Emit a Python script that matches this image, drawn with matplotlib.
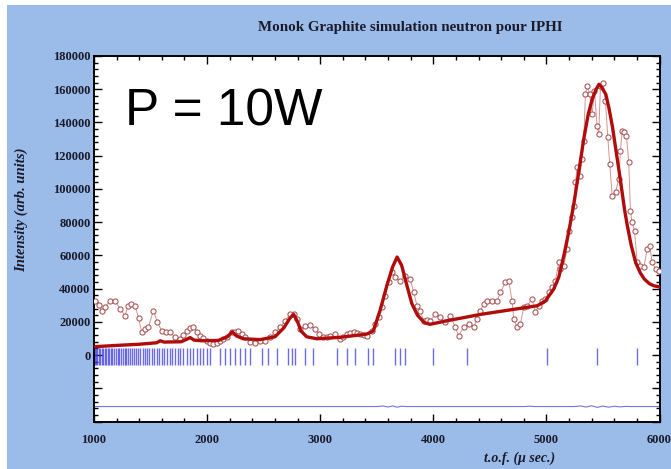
import matplotlib
matplotlib.use("Agg")
import matplotlib.pyplot as plt
from matplotlib.patches import Rectangle
from matplotlib.ticker import MultipleLocator, FuncFormatter

# ---------------- data ----------------
obs_tof = [1009, 1040, 1068, 1100, 1142, 1186, 1230, 1274, 1301, 1330, 1363, 1395, 1422, 1450,
           1481, 1525, 1560, 1599, 1635, 1673, 1717, 1761, 1790, 1823, 1850, 1879, 1910, 1938,
           1968, 1997, 2026, 2056, 2085, 2115, 2145, 2174, 2219, 2250, 2277, 2305, 2336, 2381,
           2425, 2469, 2513, 2558, 2602, 2646, 2690, 2735, 2764, 2794, 2823, 2867, 2912, 2956,
           2985, 3029, 3060, 3088, 3133, 3177, 3206, 3236, 3265, 3295, 3325, 3354, 3384, 3413,
           3457, 3487, 3516, 3546, 3575, 3604, 3634, 3664, 3708, 3752, 3796, 3826, 3856, 3885,
           3915, 3945, 3973, 4018, 4062, 4106, 4150, 4195, 4224, 4268, 4312, 4357, 4386, 4416,
           4445, 4475, 4519, 4564, 4593, 4637, 4666, 4696, 4711, 4740, 4770, 4799, 4829, 4873,
           4903, 4932, 4962, 4991, 5020, 5050, 5080, 5109, 5124, 5153, 5183, 5197, 5227, 5242,
           5257, 5271, 5295, 5316, 5330, 5345, 5360, 5383, 5404, 5425, 5448, 5463, 5478, 5502,
           5522, 5543, 5560, 5582, 5611, 5640, 5655, 5670, 5690, 5708, 5728, 5743, 5758, 5779,
           5803, 5832, 5862, 5891, 5914, 5935, 5965, 5994]
obs_int = [32700, 30000, 26700, 29000, 32700, 32700, 28000, 23700, 29700, 30500, 29700, 22000, 13600, 15500,
           16700, 26700, 20000, 14600, 14000, 13600, 10700, 9600, 12000, 14600, 16000, 16700, 14000, 11600,
           10000, 8600, 7500, 6600, 7500, 8600, 9800, 10700, 13600, 14000, 14600, 12500, 10700, 7600,
           7200, 8600, 8600, 10700, 13600, 16700, 20600, 24700, 24700, 21700, 15700, 17600, 18000, 15700,
           12600, 10700, 11000, 11600, 12600, 9600, 11000, 12600, 13000, 13600, 13000, 12600, 12000, 11600,
           14600, 18700, 22700, 28700, 35700, 44000, 49800, 46800, 44700, 47700, 45800, 37700, 29700, 26700,
           20600, 21000, 20600, 24700, 22700, 19700, 23700, 16700, 11600, 16700, 18700, 16700, 21700, 26700,
           30700, 32700, 32700, 32700, 37700, 43800, 44700, 32700, 21700, 16700, 18700, 28700, 29700, 33700,
           25700, 29700, 32700, 33700, 37700, 40800, 44700, 55800, 51800, 53800, 63800, 74800, 82900, 89900,
           104000, 113000, 108000, 118000, 129000, 157000, 162000, 157000, 145000, 159000, 138000, 133000, 162000, 164000,
           153000, 131000, 115000, 95900, 98000, 106000, 123000, 135000, 134000, 132000, 116000, 86900, 79900, 74800,
           55800, 53800, 52800, 63800, 65800, 55800, 51800, 50800]

calc_tof = [1000, 1200, 1400, 1555, 1585, 1620, 1770, 1820, 1850, 1885, 1950, 2100, 2180, 2222,
            2260, 2320, 2470, 2600, 2680, 2730, 2765, 2800, 2830, 2880, 2970, 3180, 3410, 3470,
            3530, 3590, 3640, 3680, 3720, 3770, 3810, 3860, 3920, 3970, 4120, 4420, 4710, 4920,
            4990, 5065, 5110, 5155, 5200, 5245, 5290, 5330, 5370, 5405, 5440, 5465, 5490, 5525,
            5555, 5585, 5620, 5655, 5690, 5715, 5750, 5790, 5830, 5865, 5910, 5950, 6000]
calc_int = [5000, 5800, 6500, 7400, 8600, 7800, 8000, 9500, 10500, 9000, 8600, 8800, 11000, 14000,
            11500, 9800, 9300, 11000, 16500, 22000, 24500, 20000, 14500, 11000, 9800, 10700, 12600, 14500,
            27000, 42000, 53000, 59000, 54000, 41000, 31000, 24000, 19500, 18500, 20600, 24500, 27500, 29700,
            32500, 39700, 47000, 60000, 75000, 92000, 112000, 130000, 145000, 154000, 160000, 163000, 161000, 157000,
            148000, 137000, 121000, 105000, 88000, 78000, 66000, 55500, 49500, 45800, 43000, 41700, 41000]

bragg_tof = [1005, 1020, 1030, 1042, 1055, 1068, 1080, 1093, 1107, 1120, 1135, 1150, 1163, 1178,
             1192, 1208, 1222, 1238, 1253, 1270, 1287, 1303, 1320, 1338, 1356, 1374, 1392, 1411,
             1430, 1450, 1470, 1490, 1511, 1532, 1554, 1576, 1598, 1621, 1645, 1668, 1692, 1716,
             1740, 1762, 1788, 1823, 1850, 1876, 1912, 1938, 1965, 2000, 2027, 2115, 2159, 2204,
             2248, 2292, 2336, 2381, 2487, 2540, 2619, 2717, 2752, 2779, 2867, 2938, 3150, 3239,
             3310, 3425, 3469, 3664, 3708, 3752, 4000, 4301, 5009, 5451, 5805]

diff_tof = [1000, 3500, 3560, 3600, 3640, 3680, 3720, 3760, 4800, 4850, 4900, 5250, 5300, 5350,
            5400, 5450, 5500, 5550, 5600, 5650, 5700, 5750, 6000]
diff_int = [-31000, -31000, -30700, -31300, -30600, -31400, -30800, -31000, -31000, -30800, -31000, -31000, -30600, -31300,
            -30500, -31500, -30700, -31400, -30800, -31200, -30900, -31000, -31000]

title = "Monok Graphite simulation neutron pour IPHI"
xlabel = "t.o.f. (\u03bc sec.)"
ylabel = "Intensity (arb. units)"
annotation = "P = 10W"

# ---------------- figure ----------------
W, H = 671, 469
fig = plt.figure(figsize=(W / 100, H / 100), dpi=100)
fig.patch.set_facecolor("white")
fig.add_artist(Rectangle((7 / W, 0), 1, 1 - 5 / H, transform=fig.transFigure,
                         facecolor="#9bbce9", edgecolor="none", zorder=-10))

left, right, top, bottom = 94, 659.5, 56, 421.5
ax = fig.add_axes([left / W, 1 - bottom / H, (right - left) / W, (bottom - top) / H])
ax.set_facecolor("white")

ax.plot(obs_tof, obs_int, color="#d49494", lw=0.7, marker="o", ms=3.7,
        mfc="white", mec="#a85050", mew=0.75, zorder=3)
ax.plot(calc_tof, calc_int, color="#b00c0c", lw=2.4, solid_capstyle="round",
        solid_joinstyle="round", zorder=4)
ax.vlines(bragg_tof, -6000, 4000, color="#3a3ae0", lw=1.0, alpha=0.75, zorder=2)
ax.plot(diff_tof, diff_int, color="#7474e4", lw=0.8, zorder=2)

ax.set_xlim(1000, 6000)
ax.set_ylim(-40000, 180000)

ax.xaxis.set_major_locator(MultipleLocator(1000))
ax.xaxis.set_minor_locator(MultipleLocator(200))
ax.yaxis.set_major_locator(MultipleLocator(20000))
ax.yaxis.set_minor_locator(MultipleLocator(4000))
ax.yaxis.set_major_formatter(FuncFormatter(lambda v, p: "" if v < 0 else f"{int(round(v))}"))
ax.xaxis.set_major_formatter(FuncFormatter(lambda v, p: f"{int(round(v))}"))

ax.tick_params(which="both", direction="in", top=True, right=True, width=1.0, color="black")
ax.tick_params(which="major", length=5.5)
ax.tick_params(which="minor", length=2.8)
ax.tick_params(axis="x", pad=9)
ax.tick_params(axis="y", pad=2.5)
for lab in ax.get_xticklabels() + ax.get_yticklabels():
    lab.set_fontfamily("Liberation Serif")
    lab.set_fontweight("bold")
    lab.set_fontsize(9)
    lab.set_color("#1a1a2a")
for s in ax.spines.values():
    s.set_linewidth(1.4)

fig.text(410 / W, 1 - 28 / H, title, ha="center", va="center",
         fontfamily="Liberation Serif", fontweight="bold", fontsize=10.8, color="#1a1a2a")
fig.text(520 / W, 1 - 458 / H, xlabel, ha="center", va="center",
         fontfamily="Liberation Serif", fontweight="bold", fontstyle="italic", fontsize=10, color="#1a1a2a")
fig.text(21 / W, 1 - 210 / H, ylabel, ha="center", va="center", rotation=90,
         fontfamily="Liberation Serif", fontweight="bold", fontstyle="italic", fontsize=10.5, color="#1a1a2a")
fig.text(125 / W, 1 - 125 / H, annotation, ha="left", va="baseline",
         fontfamily="Liberation Sans", fontsize=37, color="black")

fig.savefig("out.png", dpi=100, facecolor=fig.get_facecolor())
